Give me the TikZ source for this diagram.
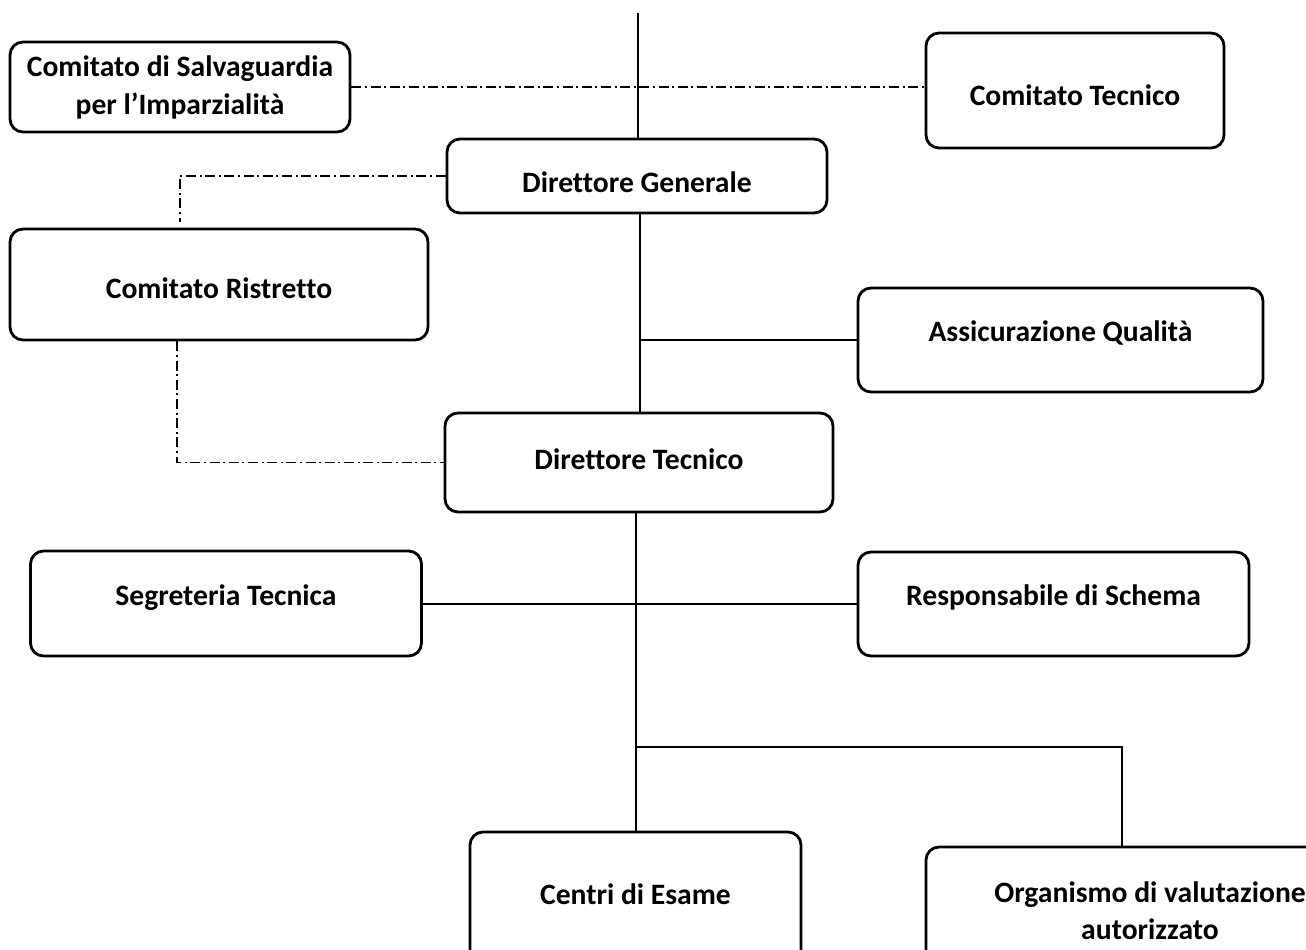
\documentclass[tikz,border=0pt]{standalone}
\usepackage{fontspec}
\setmainfont{Carlito}[Ligatures={NoCommon}]
\begin{document}
\begin{tikzpicture}[x=0.5pt,y=-0.5pt,
  box/.style={draw=black,line width=1.4pt,rounded corners=6.5pt,inner sep=0pt,
    font=\fontsize{14.8}{18.5}\selectfont\bfseries,align=center,text depth=0pt},
  conn/.style={line width=1pt},
  dd/.style={line width=0.8pt,dash pattern=on 5pt off 1.8pt on 1pt off 1.8pt}]
\useasboundingbox (0,0) rectangle (1306,949);
\clip (0,0) rectangle (1306,949);
% boxes
\node[box,minimum width=170pt,minimum height=45pt,text depth=] (salv) at (180,87)
  {Comitato di Salvaguardia\\[0.5pt]per l’Imparzialità};
\node[box,minimum width=149pt,minimum height=57.5pt,text height=14.5pt] (ctec) at (1075,90.5) {Comitato Tecnico};
\node[box,minimum width=190pt,minimum height=37pt,text height=16pt] (dg) at (637,176) {Direttore Generale};
\node[box,minimum width=209pt,minimum height=55.5pt,text height=13.5pt] (cr) at (219,284.5) {Comitato Ristretto};
\node[box,minimum width=202.5pt,minimum height=52pt,text height=1pt] (aq) at (1060.5,340) {Assicurazione Qualità};
\node[box,minimum width=194pt,minimum height=49.5pt,text height=6.5pt] (dt) at (639,462.5) {Direttore Tecnico};
\node[box,minimum width=195.5pt,minimum height=52.5pt,text height=1.5pt] (st) at (226,603.5) {Segreteria Tecnica};
\node[box,minimum width=195.5pt,minimum height=52pt,text height=1pt] (rs) at (1053.5,604) {Responsabile di Schema};
\node[box,minimum width=165.5pt,minimum height=69pt,text height=3pt] (ce) at (635.5,901) {Centri di Esame};
\node[box,minimum width=224pt,minimum height=64pt,text depth=] (org) at (1150,911)
  {Organismo di valutazione\\autorizzato};
% connectors
\coordinate (top) at (638,13);
\coordinate (br) at (1122,747);
\draw[conn] (top) -- (top |- dg.north);
\draw[dd] (salv.east) -- (salv.east -| ctec.west);
\draw[dd] (dg.west) -| ([xshift=-19.5pt,yshift=3pt]cr.north);
\draw[dd] ([xshift=-21pt]cr.south) |- (dt.west);
\draw[conn] ([xshift=1.5pt]dg.south) -- ([xshift=1.5pt]dg.south |- dt.north);
\draw[conn] ([xshift=1.5pt]dg.south |- aq.west) -- (aq.west);
\draw[conn] (dt.south -| ce.north) -- (ce.north);
\draw[conn] (st.east) -- (st.east -| rs.west);
\draw[conn] (ce.north |- br) -- (br) -- (br |- org.north);
\end{tikzpicture}
\end{document}
